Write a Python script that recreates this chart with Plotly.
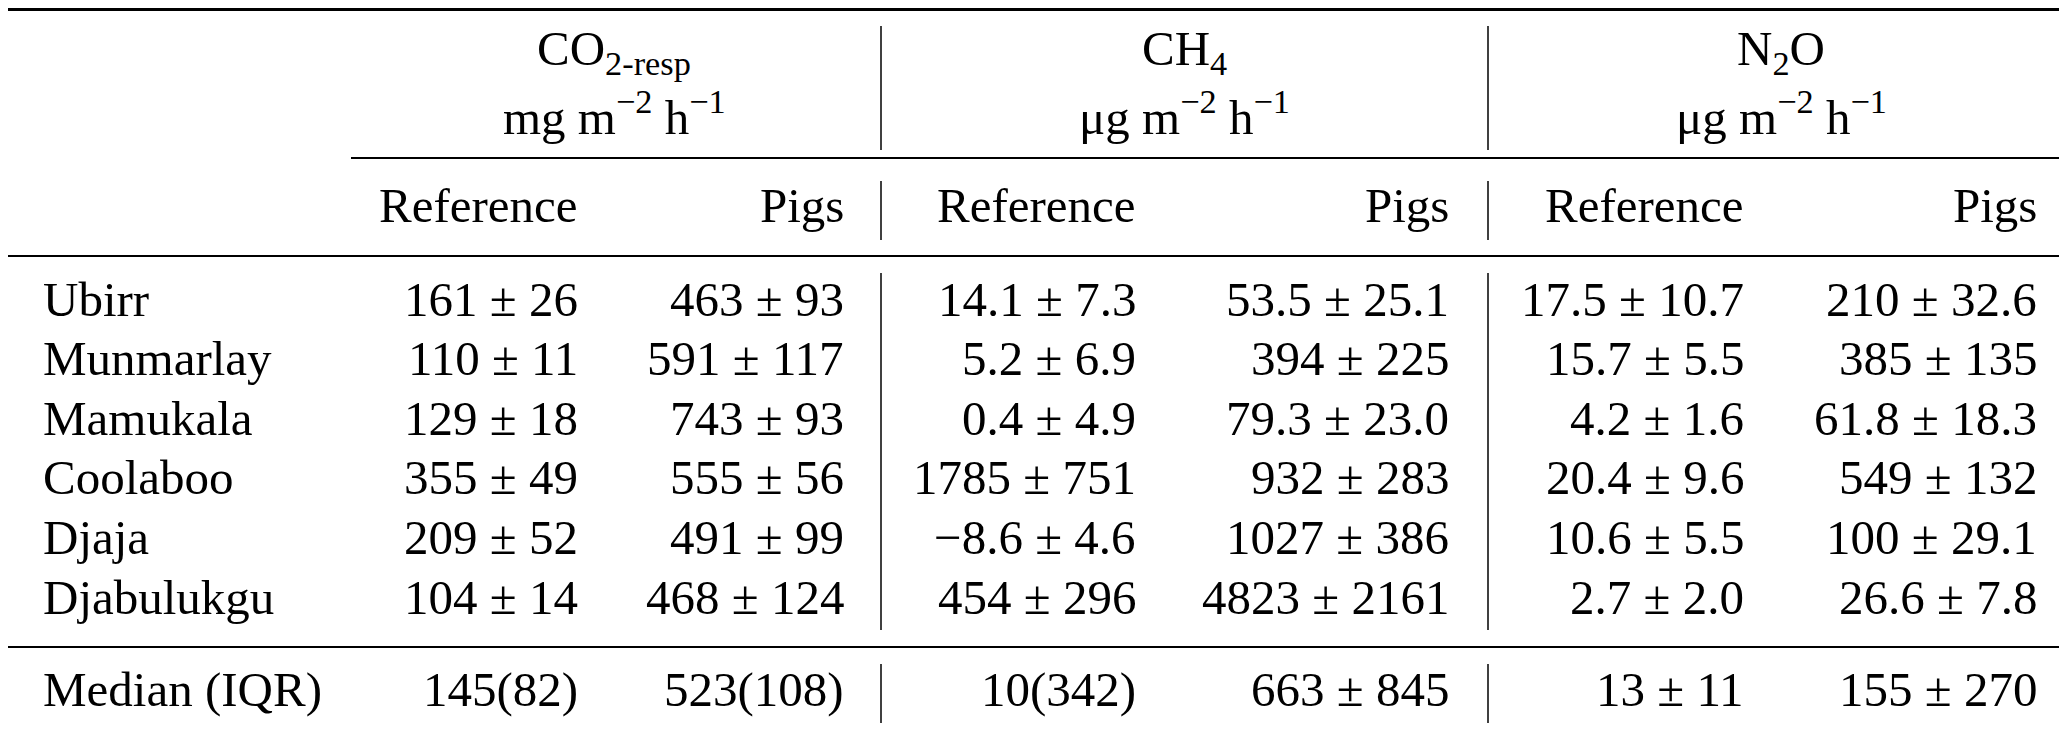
import plotly.graph_objects as go

# table content
sites = ['Ubirr', 'Munmarlay', 'Mamukala', 'Coolaboo', 'Djaja', 'Djabulukgu']

gases = ['CO<sub>2-resp</sub>', 'CH<sub>4</sub>', 'N<sub>2</sub>O']
units = ['mg m<sup>−2</sup> h<sup>−1</sup>', 'μg m<sup>−2</sup> h<sup>−1</sup>', 'μg m<sup>−2</sup> h<sup>−1</sup>']
treatments = ['Reference', 'Pigs']

co2_ref_mean = ['161', '110', '129', '355', '209', '104']
co2_ref_sd = ['26', '11', '18', '49', '52', '14']
co2_pig_mean = ['463', '591', '743', '555', '491', '468']
co2_pig_sd = ['93', '117', '93', '56', '99', '124']

ch4_ref_mean = ['14.1', '5.2', '0.4', '1785', '−8.6', '454']
ch4_ref_sd = ['7.3', '6.9', '4.9', '751', '4.6', '296']
ch4_pig_mean = ['53.5', '394', '79.3', '932', '1027', '4823']
ch4_pig_sd = ['25.1', '225', '23.0', '283', '386', '2161']

n2o_ref_mean = ['17.5', '15.7', '4.2', '20.4', '10.6', '2.7']
n2o_ref_sd = ['10.7', '5.5', '1.6', '9.6', '5.5', '2.0']
n2o_pig_mean = ['210', '385', '61.8', '549', '100', '26.6']
n2o_pig_sd = ['32.6', '135', '18.3', '132', '29.1', '7.8']

summary_label = 'Median (IQR)'
summary_row = ['145(82)', '523(108)', '10(342)', '663 ± 845', '13 ± 11', '155 ± 270']

columns = [(co2_ref_mean, co2_ref_sd), (co2_pig_mean, co2_pig_sd),
           (ch4_ref_mean, ch4_ref_sd), (ch4_pig_mean, ch4_pig_sd),
           (n2o_ref_mean, n2o_ref_sd), (n2o_pig_mean, n2o_pig_sd)]

# layout geometry (pixels)
W, H = 2067, 734
FONT = dict(family='Liberation Serif', size=49, color='black')
label_x = 33
col_right = [572, 838, 1130, 1443, 1738, 2031]
group_center = [606, 1176, 1773]
vlines_x = [873, 1480]
vline_spans = [(18, 142), (173, 232), (265, 622), (656, 715)]
gas_y, unit_y, treat_y = 43, 105, 197
row_y0, row_step = 291, 59.6
summary_y = 681

annotations = []


def add_text(x, y, text, anchor):
    annotations.append(dict(x=x, y=y, xref='x', yref='y', text=text, showarrow=False,
                            xanchor=anchor, yanchor='middle', font=dict(FONT)))


for g in range(3):
    add_text(group_center[g], gas_y, gases[g], 'center')
    add_text(group_center[g], unit_y, units[g], 'center')
    for t in range(2):
        add_text(col_right[2 * g + t], treat_y, treatments[t], 'right')

for i, site in enumerate(sites):
    y = row_y0 + i * row_step
    add_text(label_x, y, site, 'left')
    for c, (means, sds) in enumerate(columns):
        add_text(col_right[c], y, means[i] + ' ± ' + sds[i], 'right')

add_text(label_x, summary_y, summary_label, 'left')
for c, val in enumerate(summary_row):
    add_text(col_right[c], summary_y, val, 'right')

shapes = []


def hline(y, x0, x1, w):
    shapes.append(dict(type='line', xref='x', yref='y', x0=x0, x1=x1, y0=y, y1=y,
                       line=dict(color='black', width=w)))


hline(1.5, 0, W, 3)
hline(150, 343, W, 2)
hline(248, 0, W, 2)
hline(639, 0, W, 2)
hline(732, 0, W, 3)

for vx in vlines_x:
    for y0, y1 in vline_spans:
        shapes.append(dict(type='line', xref='x', yref='y', x0=vx, x1=vx, y0=y0, y1=y1,
                           line=dict(color='black', width=1.5)))

fig = go.Figure()
fig.update_layout(
    width=W, height=H,
    margin=dict(l=0, r=0, t=0, b=0),
    paper_bgcolor='white', plot_bgcolor='white',
    xaxis=dict(range=[0, W], visible=False, fixedrange=True),
    yaxis=dict(range=[H, 0], visible=False, fixedrange=True),
    annotations=annotations,
    shapes=shapes,
    showlegend=False,
)

fig.write_html('out.html')
